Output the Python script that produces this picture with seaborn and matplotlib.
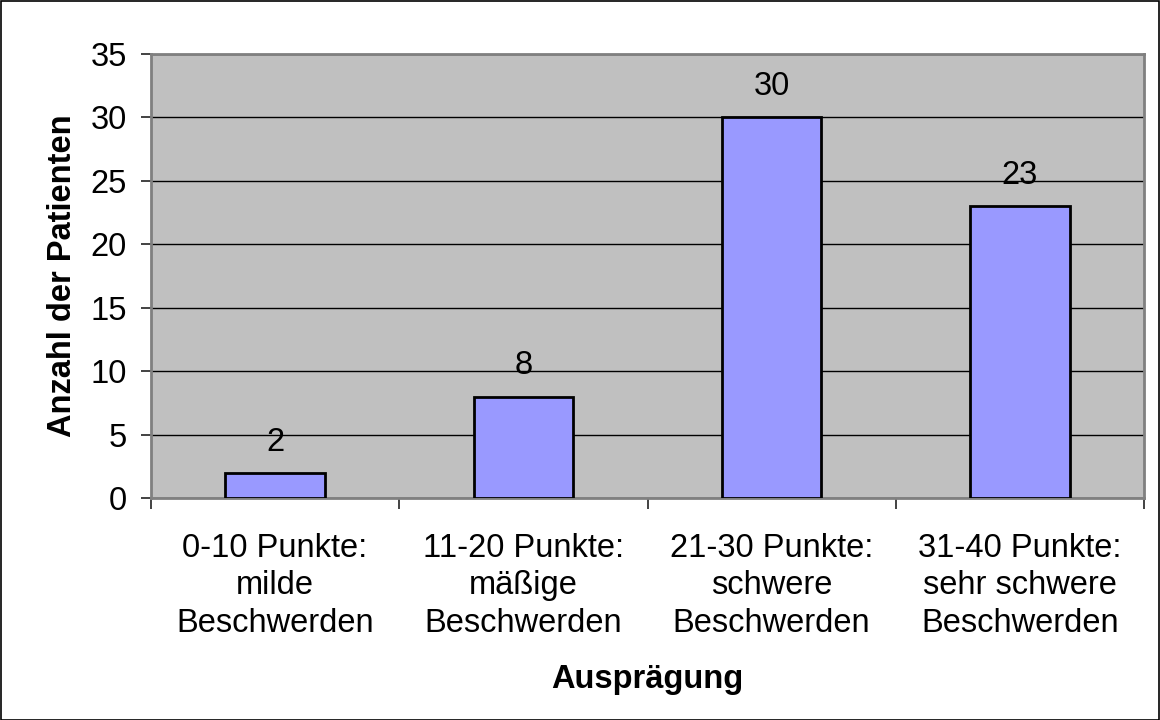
import matplotlib
matplotlib.use("Agg")
import matplotlib.pyplot as plt
import seaborn as sns
import pandas as pd
from matplotlib.patches import Rectangle

categories = ["0-10 Punkte:\nmilde\nBeschwerden",
              "11-20 Punkte:\nmäßige\nBeschwerden",
              "21-30 Punkte:\nschwere\nBeschwerden",
              "31-40 Punkte:\nsehr schwere\nBeschwerden"]
values = [2, 8, 30, 23]
y_ticks = [0, 5, 10, 15, 20, 25, 30, 35]

sns.set_style("white")
plt.rcParams['font.family'] = ['Liberation Sans', 'DejaVu Sans']
plt.rcParams['text.color'] = 'black'
plt.rcParams['axes.labelcolor'] = 'black'
plt.rcParams['xtick.color'] = 'black'
plt.rcParams['ytick.color'] = 'black'

FS = 23.5

df = pd.DataFrame({"cat": categories, "val": values})

fig = plt.figure(figsize=(11.6, 7.2), dpi=100)
ax = fig.add_axes([151/1160, 1 - 498/720, (1144 - 151)/1160, (498 - 54)/720])
ax.set_facecolor("#C0C0C0")

sns.barplot(data=df, x="cat", y="val", color="#9999FF", width=0.4,
            edgecolor="black", linewidth=2, saturation=1, ax=ax, zorder=3)

ax.set_ylim(0, 35)
ax.set_xlim(-0.5, 3.5)
ax.set_yticks(y_ticks)
ax.set_yticklabels([str(t) for t in y_ticks], fontsize=FS)
ax.yaxis.grid(True, color="black", linewidth=1, zorder=1)
ax.set_axisbelow(True)
ax.tick_params(axis='y', left=True, length=7.5, width=1.2, color="#222222",
               labelcolor="black", pad=10)

ax.set_xticks(range(len(categories)))
ax.set_xticklabels(categories, fontsize=FS, linespacing=1.28)
ax.tick_params(axis='x', which='major', bottom=True, length=0, pad=25,
               labelcolor="black")
ax.set_xticks([-0.5, 0.5, 1.5, 2.5, 3.5], minor=True)
ax.tick_params(axis='x', which='minor', bottom=True, length=8, width=1.2,
               color="#222222")

for s in ["left", "bottom", "top", "right"]:
    ax.spines[s].set_color("#808080")
    ax.spines[s].set_linewidth(2)

for i, v in enumerate(values):
    ax.annotate(str(v), (i, v), xytext=(0, 22), textcoords="offset points",
                ha="center", va="center", fontsize=FS, zorder=5)

ax.set_ylabel("Anzahl der Patienten", fontsize=FS, fontweight="bold", labelpad=9)
ax.set_xlabel("Ausprägung", fontsize=FS, fontweight="bold", labelpad=18)

fig.patches.append(Rectangle((0.5/1160, 0.5/720), 1 - 1.5/1160, 1 - 1.5/720,
                             transform=fig.transFigure, fill=False,
                             edgecolor="black", linewidth=1.2))

fig.savefig("out.png", dpi=100)
